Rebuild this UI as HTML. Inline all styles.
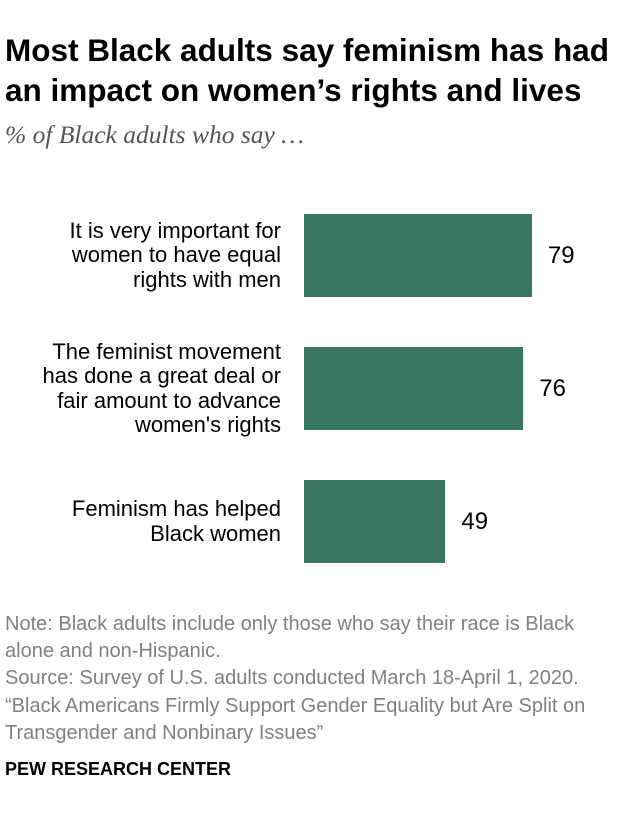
<!DOCTYPE html>
<html><head><meta charset="utf-8"><style>
body{margin:0;background:#fff;width:620px;height:820px;position:relative;font-family:"Liberation Sans",sans-serif;overflow:hidden}
.t{position:absolute;white-space:nowrap}
#title{left:5px;top:30px;font-size:31.5px;font-weight:bold;line-height:40px;color:#000}
#sub{left:5px;top:120px;font-family:"Liberation Serif",serif;font-style:italic;font-size:25.5px;color:#555}
.lab{position:absolute;right:339px;text-align:right;font-size:22px;line-height:24.5px;color:#000}
.val{position:absolute;font-size:24px;color:#000}
#note{left:5px;top:611px;font-size:20px;line-height:27.2px;color:#808080}
#pew{left:5px;top:759px;font-size:18px;font-weight:bold;color:#000}
</style></head><body>
<div class="t" id="title">Most Black adults say feminism has had<br>an impact on women’s rights and lives</div>
<div class="t" id="sub">% of Black adults who say …</div>
<div id="chart"></div>
<div class="t" id="note">Note: Black adults include only those who say their race is Black<br>alone and non-Hispanic.<br>Source: Survey of U.S. adults conducted March 18-April 1, 2020.<br>“Black Americans Firmly Support Gender Equality but Are Split on<br>Transgender and Nonbinary Issues”</div>
<div class="t" id="pew">PEW RESEARCH CENTER</div>
<script>
const categories=["It is very important for<br>women to have equal<br>rights with men","The feminist movement<br>has done a great deal or<br>fair amount to advance<br>women's rights","Feminism has helped<br>Black women"];
const values=[79,76,49];
const x0=304, scale=2.885, barH=83, firstTop=214, step=133;
const xs=v=>v*scale;
const chart=document.getElementById('chart');
categories.forEach((c,i)=>{
  const top=firstTop+i*step, mid=top+barH/2;
  const b=document.createElement('div');
  
  
  b.style.cssText=`position:absolute;left:${x0}px;top:${top}px;width:${xs(values[i])}px;height:${barH}px;background:#3a7664`;
  chart.appendChild(b);
  const l=document.createElement('div');
  l.className='lab';
  
  
  l.innerHTML=c;
  const n=c.split('<br>').length;
  l.style.top=(mid-n*12.25)+'px';
  chart.appendChild(l);
  const v=document.createElement('div');
  v.className='val';
  
  
  v.textContent=values[i];
  v.style.left=(x0+xs(values[i])+16)+'px';
  v.style.top=(mid-14)+'px';
  chart.appendChild(v);
});
</script>
</body></html>
